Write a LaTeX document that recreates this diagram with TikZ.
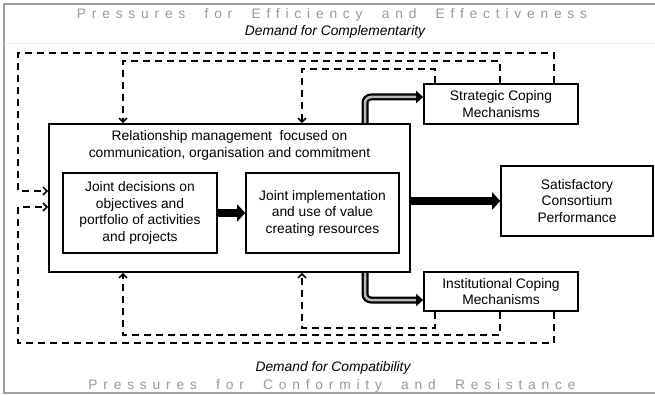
\documentclass[tikz,border=0pt]{standalone}
\usepackage{fontspec}
\setmainfont{Liberation Sans}
\newfontfamily\spacedfont{Liberation Sans}[LetterSpace=42,WordSpace=2]
\usetikzlibrary{arrows.meta,positioning}

\begin{document}
\begin{tikzpicture}[
                    x=1pt, y=-1pt,
                    every node/.append style={font=\fontsize{13.8}{16.5}\selectfont},
                    box/.style={draw, line width=1.6pt, align=center, inner sep=0pt},
                    fb/.style={line width=1.6pt, dash pattern=on 7pt off 5pt,
                               -{Straight Barb[length=4pt,width=8pt]}},
                    fat/.style={line width=8pt, -{Triangle[length=8pt,width=17pt]}},
                    tube/.style={line width=7pt, rounded corners=6pt,
                                 -{Triangle[length=7pt,width=12pt]},
                                 postaction={draw=gray!55, line width=2.5pt, -, shorten >=7pt}},
                    pressure/.style={text=gray!80, font=\spacedfont\fontsize{13.8}{16.5}\selectfont},
                    demand/.style={font=\fontsize{13.8}{16.5}\selectfont\itshape}
                    ]
\useasboundingbox (0,0) rectangle (655,395);

\draw[gray!75, line width=1.2pt] (655,4) -- (4,4) -- (4,393) -- (655,393);
\draw[black!6, line width=1pt] (4,44) -- (655,44);

\node[pressure] (pe) at (332,15) {Pressures for Efficiency and Effectiveness};
\node[demand]   (dc) at (335,32) {Demand for Complementarity};
\node[demand]   (dp) at (333,368) {Demand for Compatibility};
\node[pressure] (pc) at (332,386) {Pressures for Conformity and Resistance};

\node[box, minimum width=361pt, minimum height=148pt] (rm) at (229.5,198) {};
\node[below=4pt of rm.north, align=center] (rmt)
     {Relationship management~ focused on\\communication, organisation and commitment};
\node[box, minimum width=154pt, minimum height=80pt] (jd) at (140,213)
     {Joint decisions on\\objectives and\\portfolio of activities\\and projects};
\node[box, minimum width=153pt, minimum height=80pt] (ji) at (322.5,213)
     {Joint implementation\\and use of value\\creating resources};
\node[box, minimum width=154pt, minimum height=40pt] (scm) at (501,104)
     {Strategic Coping\\Mechanisms};
\node[box, minimum width=154pt, minimum height=39pt] (icm) at (501,291.5)
     {Institutional Coping\\Mechanisms};
\node[box, minimum width=152pt, minimum height=70pt] (scp) at (577,201)
     {Satisfactory\\Consortium\\Performance};

\coordinate (to) at (18,53);
\coordinate (tm) at (123,61);
\coordinate (ti) at (302,69);
\coordinate (bo) at (18,343);
\coordinate (bm) at (123,335);
\coordinate (bi) at (302,328);

\draw[fat]  (jd) -- (ji);
\draw[fat]  (rm.east |- scp.west) -- (scp.west);
\draw[tube] (rm.north -| 365,0) |- (scm.west |- 0,97);
\draw[tube] (rm.south -| 365,0) |- (icm.west |- 0,300);

\draw[fb] (scm.north -| 554,0) |- (to) |- (rm.west |- 0,191);
\draw[fb] (scm.north -| 500,0) |- (tm) -- (rm.north -| tm);
\draw[fb] (scm.north -| 435,0) |- (ti) -- (rm.north -| ti);
\draw[fb] (icm.south -| 554,0) |- (bo) |- (rm.west |- 0,207);
\draw[fb] (icm.south -| 500,0) |- (bm) -- (rm.south -| bm);
\draw[fb] (icm.south -| 435,0) |- (bi) -- (rm.south -| bi);
\end{tikzpicture}
\end{document}
